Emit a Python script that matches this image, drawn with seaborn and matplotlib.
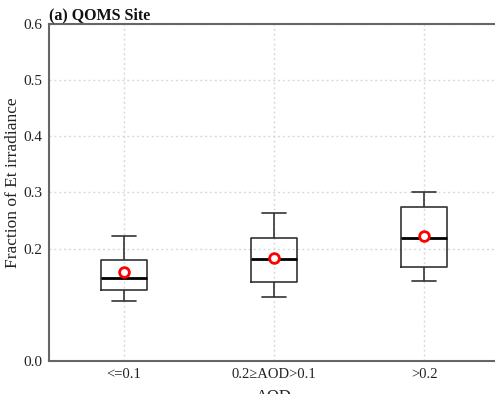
import numpy as np
import pandas as pd
import matplotlib
matplotlib.use("Agg")
import matplotlib.pyplot as plt
import seaborn as sns

categories = ["<=0.1", "0.2\u2265AOD>0.1", ">0.2"]
whisker_low = [0.107, 0.114, 0.143]
q1 = [0.127, 0.140, 0.167]
median = [0.147, 0.182, 0.219]
q3 = [0.179, 0.219, 0.275]
whisker_high = [0.223, 0.264, 0.301]
means = [0.159, 0.184, 0.223]
yticks = [0.0, 0.2, 0.3, 0.4, 0.5, 0.6]

sns.set_theme(style="white")
plt.rcParams["font.family"] = ["Liberation Serif", "DejaVu Serif"]

rows = []
for c, a, b, m, d, e in zip(categories, whisker_low, q1, median, q3, whisker_high):
    for v in (a, b, m, d, e):
        rows.append({"AOD": c, "value": v})
df = pd.DataFrame(rows)
df_mean = pd.DataFrame({"AOD": categories, "mean": means})

fig = plt.figure(figsize=(4.95, 3.94), dpi=100)
ax = fig.add_axes([49 / 495, 1 - 361 / 394, 450 / 495, 337 / 394])

edge = "#333333"
sns.boxplot(data=df, x="AOD", y="value", order=categories, whis=(0, 100),
            width=0.31, fill=False, color=edge, linewidth=1.2,
            medianprops=dict(color="black", linewidth=2.0),
            showfliers=False, ax=ax, zorder=3)
sns.pointplot(data=df_mean, x="AOD", y="mean", order=categories,
              linestyle="none", markers="o", errorbar=None, color="red",
              markerfacecolor="white", markeredgecolor="red",
              markersize=7, markeredgewidth=2.0, ax=ax, zorder=5)

ax.set_ylim(0, 0.6)
ax.set_xlim(-0.5, 2.5)
ax.set_yticks(yticks)
ax.set_yticklabels([f"{t:.1f}" for t in yticks])
ax.grid(True, linestyle=(0, (1.5, 2)), color="#d9d9d9", linewidth=1.0, zorder=0)
ax.set_axisbelow(True)
for s in ["left", "bottom", "top", "right"]:
    ax.spines[s].set_color("#666666")
    ax.spines[s].set_linewidth(1.5)
ax.tick_params(axis="both", which="both", direction="out", length=3, width=1,
               color="#666666", labelsize=11, labelcolor="#222222", pad=2)
ax.tick_params(axis="x", labelsize=10.5)
ax.set_ylabel("Fraction of Et irradiance", fontsize=12.5, color="#222222")
ax.yaxis.set_label_coords(-0.062, 0.53)
ax.set_xlabel("AOD", fontsize=12, color="#222222", labelpad=6)
ax.set_title("(a) QOMS Site", loc="left", fontweight="bold", fontsize=11.5, pad=3,
             color="#111111")

fig.savefig("out.png", dpi=100)
